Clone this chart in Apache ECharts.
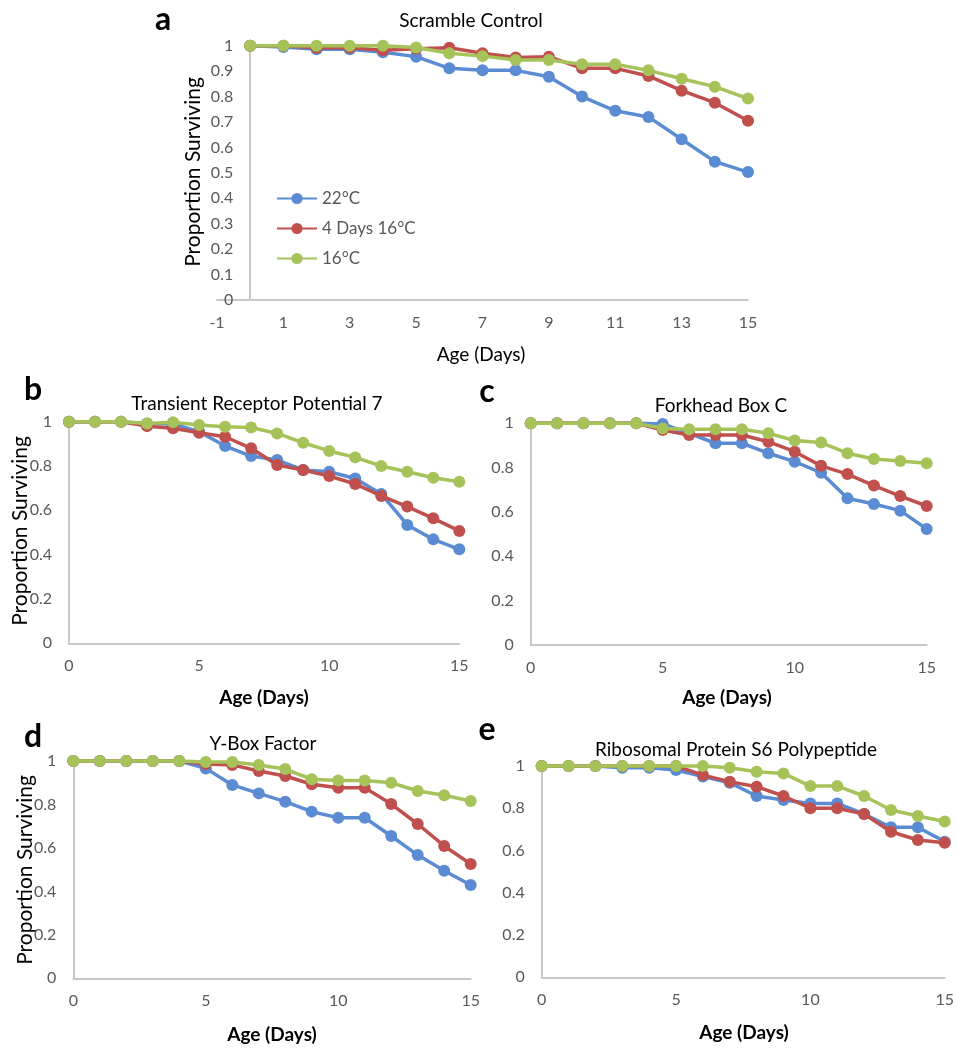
<!DOCTYPE html>
<html><head><meta charset="utf-8">
<script src="https://cdn.jsdelivr.net/npm/echarts@6/dist/echarts.min.js"></script>
<style>html,body{margin:0;padding:0;background:#fff}#c{width:957px;height:1050px}</style>
</head><body><div id="c"></div>
<script>
// ---- data ----
const days = [0,1,2,3,4,5,6,7,8,9,10,11,12,13,14,15];
const seriesNames = ['22°C','4 Days 16°C','16°C'];
const panelTitles = ['Scramble Control','Transient Receptor Potential 7','Forkhead Box C','Y-Box Factor','Ribosomal Protein S6 Polypeptide'];
const panelLetters = ['a','b','c','d','e'];

const a22 = [1.0,0.995,0.986,0.986,0.974,0.957,0.911,0.903,0.903,0.878,0.800,0.744,0.720,0.632,0.544,0.503];
const a4d = [1.0,1.0,0.992,0.992,0.982,0.988,0.992,0.970,0.954,0.957,0.911,0.911,0.881,0.823,0.776,0.705];
const a16 = [1.0,1.0,1.0,1.0,1.0,0.993,0.970,0.959,0.944,0.944,0.927,0.927,0.903,0.870,0.839,0.792];

const b22 = [1,1,1,0.992,0.99,0.955,0.890,0.845,0.827,0.782,0.774,0.744,0.674,0.534,0.469,0.424];
const b4d = [1,1,1,0.980,0.970,0.950,0.932,0.880,0.805,0.782,0.755,0.719,0.665,0.617,0.564,0.507];
const b16 = [1,1,1,0.992,0.997,0.985,0.977,0.974,0.947,0.905,0.868,0.839,0.800,0.774,0.747,0.729];

const c22 = [1,1,1,1,1,0.997,0.955,0.910,0.910,0.865,0.827,0.777,0.662,0.636,0.606,0.523];
const c4d = [1,1,1,1,1,0.970,0.947,0.947,0.947,0.917,0.872,0.808,0.771,0.719,0.672,0.627];
const c16 = [1,1,1,1,1,0.977,0.973,0.973,0.973,0.955,0.922,0.913,0.865,0.839,0.830,0.820];

const d22 = [1,1,1,1,1,0.966,0.890,0.851,0.813,0.767,0.739,0.739,0.655,0.567,0.495,0.429];
const d4d = [1,1,1,1,1,0.986,0.982,0.954,0.931,0.893,0.877,0.877,0.802,0.710,0.609,0.526];
const d16 = [1,1,1,1,1,0.995,0.995,0.982,0.963,0.916,0.910,0.910,0.900,0.862,0.842,0.816];

const e22 = [1,1,1,0.992,0.992,0.981,0.950,0.921,0.858,0.839,0.823,0.823,0.773,0.710,0.710,0.642];
const e4d = [1,1,1,1,1,1,0.957,0.926,0.902,0.858,0.800,0.800,0.773,0.689,0.650,0.637];
const e16 = [1,1,1,1,1,1,1,0.992,0.973,0.965,0.905,0.905,0.858,0.792,0.763,0.737];

const panelData = [[a22,a4d,a16],[b22,b4d,b16],[c22,c4d,c16],[d22,d4d,d16],[e22,e4d,e16]];

// ---- layout / style ----
const FONT = 'Lato';
const colors = ['#5b8bd2','#c0504d','#a6c35a'];
const axisGray = '#c8c8c8';
const labelGray = '#595959';
const layout = [
  {grid:{left:217,right:209,top:45.7,bottom:750}, xmin:-1, xint:2, yint:0.1, yoff:-33.19,
   title:[471,21], letter:[163,20], xname:[481,355], yname:[193,172]},
  {grid:{left:69,right:497.7,top:421.7,bottom:406.7}, xmin:0, xint:5, yint:0.2, yoff:0,
   title:[257,403.5], letter:[33,390], xname:[264,698], yname:[20,531]},
  {grid:{left:530.7,right:30.3,top:423.3,bottom:405}, xmin:0, xint:5, yint:0.2, yoff:0,
   title:[721,406], letter:[487,392], xname:[727,698], yname:null},
  {grid:{left:73.3,right:486.3,top:761,bottom:71.7}, xmin:0, xint:5, yint:0.2, yoff:0,
   title:[263,743.5], letter:[33,737], xname:[272,1035], yname:[25,870]},
  {grid:{left:541.7,right:9.7,top:766,bottom:72.7}, xmin:0, xint:5, yint:0.2, yoff:0,
   title:[736,749.5], letter:[487,730], xname:[744,1033], yname:null}
];

const grids = [], xAxes = [], yAxes = [], series = [], graphics = [];
layout.forEach((L, i) => {
  grids.push(L.grid);
  xAxes.push({
    type:'value', gridIndex:i, min:L.xmin, max:15, interval:L.xint,
    axisLine:{show:true, onZero:false, lineStyle:{color:axisGray, width:2}},
    axisTick:{show:false}, splitLine:{show:false},
    axisLabel:{color:labelGray, fontFamily:FONT, fontSize:16, margin:15, showMinLabel:true, showMaxLabel:true}
  });
  yAxes.push({
    type:'value', gridIndex:i, min:0, max:1, interval:L.yint, offset:L.yoff,
    axisLine:{show:true, onZero:false, lineStyle:{color:axisGray, width:2}},
    axisTick:{show:false}, splitLine:{show:false},
    axisLabel:{color:labelGray, fontFamily:FONT, fontSize:16, margin:17,
      formatter: v => String(parseFloat(v.toFixed(2)))}
  });
  panelData[i].forEach((vals, s) => {
    series.push({
      name: seriesNames[s], type:'line', xAxisIndex:i, yAxisIndex:i,
      data: days.map((d, k) => [d, vals[k]]),
      symbol:'circle', symbolSize:12, clip:false,
      lineStyle:{color:colors[s], width:3.5},
      itemStyle:{color:colors[s]},
      z: 2 + s
    });
  });
  graphics.push({type:'text', x:L.title[0], y:L.title[1],
    style:{text:panelTitles[i], fill:'#000', font:'19px ' + FONT, textAlign:'center', textVerticalAlign:'middle'}});
  graphics.push({type:'text', x:L.letter[0], y:L.letter[1],
    style:{text:panelLetters[i], fill:'#000', font:'bold 32px ' + FONT, textAlign:'center', textVerticalAlign:'middle'}});
  graphics.push({type:'text', x:L.xname[0], y:L.xname[1],
    style:{text:'Age (Days)', fill:'#000', font:(i===0?'':'bold ') + '19px ' + FONT, textAlign:'center', textVerticalAlign:'middle'}});
  if (L.yname) {
    graphics.push({type:'text', x:L.yname[0], y:L.yname[1], rotation:Math.PI/2,
      style:{text:'Proportion Surviving', fill:'#000', font:'21px ' + FONT, textAlign:'center', textVerticalAlign:'middle'}});
  }
});

const chart = echarts.init(document.getElementById('c'));
chart.setOption({
  animation:false,
  backgroundColor:'#fff',
  grid: grids, xAxis: xAxes, yAxis: yAxes, series: series,
  legend:{
    data: seriesNames, orient:'vertical', left:271, top:185,
    itemWidth:40, itemHeight:14, itemGap:13,
    textStyle:{color:labelGray, fontFamily:FONT, fontSize:17, lineHeight:14}
  },
  graphic: graphics
});
</script></body></html>
